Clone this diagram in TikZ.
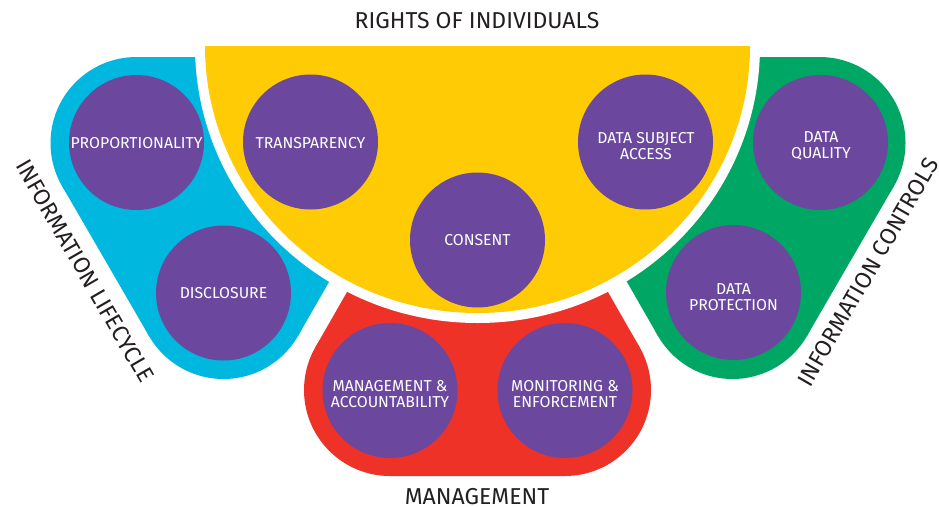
\documentclass[tikz,border=0pt]{standalone}
\usepackage{fontspec}
\setmainfont{Fira Sans}
\definecolor{cblue}{RGB}{0,183,223}
\definecolor{cyel}{RGB}{255,203,5}
\definecolor{cgreen}{RGB}{0,166,99}
\definecolor{cred}{RGB}{238,50,39}
\definecolor{cpurp}{RGB}{107,72,158}
\definecolor{ctext}{RGB}{35,31,32}
\begin{document}
\begin{tikzpicture}[x=1pt,y=-1pt,
  disc/.style={circle,fill=cpurp,minimum size=135pt,inner sep=0pt},
  lbl/.style={text=white,align=center,inner sep=0pt,font=\fontsize{15.8}{16}\selectfont},
  heading/.style={text=ctext,inner sep=0pt,font=\fontsize{23}{26}\selectfont}]
\useasboundingbox[fill=white] (0,0) rectangle (939,506);
% blue lobe
\fill[cblue] (136.5,143) circle[radius=86];
\fill[cblue] (223.5,293) circle[radius=86];
\fill[cblue] (136.5,57) -- (240,57) -- (342.9,257.8) -- (298.1,335.8) -- (149.1,336.1) -- (62.1,186.1) -- cycle;
% green lobe
\fill[cgreen] (819.5,143) circle[radius=86];
\fill[cgreen] (732.5,293) circle[radius=86];
\fill[cgreen] (819.5,57) -- (716,57) -- (613.1,257.8) -- (657.9,335.8) -- (806.9,336.1) -- (893.9,186.1) -- cycle;
% red lobe
\fill[cred] (390,390) circle[radius=86];
\fill[cred] (565,390) circle[radius=86];
\fill[cred] (355.2,277.8) -- (599.8,277.8) -- (639.6,347.2) -- (565,476) -- (390,476) -- (315.4,347.2) -- cycle;
% white gap and yellow half disc
\begin{scope}
\clip (0,40) rectangle (939,506);
\draw[white,line width=20pt] (477.5,46) ellipse[x radius=272.5,y radius=267];
\end{scope}
\begin{scope}
\clip (0,46) rectangle (939,506);
\fill[cyel] (477.5,46) ellipse[x radius=272.5,y radius=267];
\end{scope}
% topic discs
\node[disc] (prop) at (136.5,142.5) {};
\node[disc] (disc) at (223.5,293) {};
\node[disc] (transp) at (310.5,142) {};
\node[disc] (consent) at (477.5,240) {};
\node[disc] (dsa) at (645.5,142) {};
\node[disc] (dq) at (820.5,142.5) {};
\node[disc] (dp) at (733.5,292.5) {};
\node[disc] (ma) at (390,390.5) {};
\node[disc] (me) at (565,390.5) {};
% labels
\node[lbl] (propt) at (136.5,143.5) {PROPORTIONALITY};
\node[lbl] (disct) at (223.5,293.5) {DISCLOSURE};
\node[lbl] (transpt) at (310.5,143.5) {TRANSPARENCY};
\node[lbl] (consentt) at (477.5,240) {CONSENT};
\node[lbl] (dsat) at (646,146) {DATA SUBJECT\\ACCESS};
\node[lbl] (dqt) at (821,146) {DATA\\QUALITY};
\node[lbl] (dpt) at (733.5,297) {DATA\\PROTECTION};
\node[lbl] (mat) at (390,394) {MANAGEMENT \&\\ACCOUNTABILITY};
\node[lbl] (met) at (565,394) {MONITORING \&\\ENFORCEMENT};
% headings
\node[heading] (hrights) at (477,20.5) {RIGHTS OF INDIVIDUALS};
\node[heading] (hmgmt) at (477,497) {MANAGEMENT};
\node[heading,rotate=-60] (hlife) at (85,271) {INFORMATION LIFECYCLE};
\node[heading,rotate=60] (hctrl) at (868,272) {INFORMATION CONTROLS};
\end{tikzpicture}
\end{document}
